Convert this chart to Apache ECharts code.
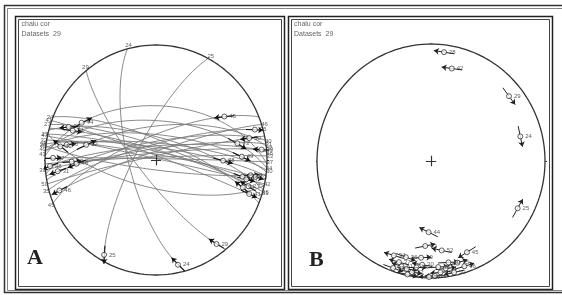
<!DOCTYPE html>
<html>
<head>
<meta charset="utf-8">
<script src="https://cdn.jsdelivr.net/npm/echarts@6/dist/echarts.min.js"></script>
<style>
html, body { margin: 0; padding: 0; background: #fff; }
#chart { width: 562px; height: 295px; }
</style>
</head>
<body>
<div id="chart"></div>
<script>
'use strict';

// 数据集（断层面 + 擦痕）
var names   = ['24', '25', '29', '28', '42', '44', '27', '23', '45', '30', '31', '32', '33', '34', '35',
               '36', '37', '38', '39', '40', '41', '43', '46', '47', '48', '49', '50', '51', '52'];
// 走向（右手法则）
var strikes = [165, 208, 141, 97, 103, 272, 288, 283, 248, 275, 262, 280, 268, 292, 255,
               285, 271, 278, 265, 260, 290, 274, 252, 282, 266, 276, 258, 286, 263];
// 倾角
var dips    = [70, 75, 77, 83, 70, 51, 80, 84, 73, 78, 82, 86, 88, 76, 79,
               74, 89, 81, 85, 77, 87, 62, 84, 89, 80, 72, 87, 83, 66];
// 侧伏角（从走向方向量起）
var rakes   = [8, 6, 10, 15, 165, 35, 165, 158, 150, 20, 12, 170, 25, 160, 172,
               18, 8, 140, 175, 30, 168, 150, 10, 162, 5, 155, 165, 22, 40];
// 运动方向
var senses  = [1, -1, 1, -1, 1, 1, -1, 1, -1, 1, -1, 1, 1, -1, 1,
               -1, 1, 1, -1, -1, 1, 1, -1, 1, -1, 1, -1, 1, 1];

var D2R = Math.PI / 180;

// 面上一点的方向向量 [东, 北, 下]
function planeVec(strike, dip, a) {
    var s = strike * D2R, dd = (strike + 90) * D2R, d = dip * D2R, t = a * D2R;
    var cs = Math.cos(t), sn = Math.sin(t);
    return [
        cs * Math.sin(s) + sn * Math.sin(dd) * Math.cos(d),
        cs * Math.cos(s) + sn * Math.cos(dd) * Math.cos(d),
        sn * Math.sin(d)
    ];
}
// 等面积下半球投影
function project(v) {
    var h = Math.sqrt(v[0] * v[0] + v[1] * v[1]);
    var plunge = Math.atan2(v[2], h);
    var r = Math.SQRT2 * Math.sin((Math.PI / 2 - plunge) / 2);
    var tr = Math.atan2(v[0], v[1]);
    return [r * Math.sin(tr), r * Math.cos(tr)];
}
function polePt(strike, dip) {
    var dd = (strike + 90) * D2R, d = dip * D2R;
    return project([-Math.sin(dd) * Math.sin(d), -Math.cos(dd) * Math.sin(d), Math.cos(d)]);
}

var chart = echarts.init(document.getElementById('chart'));
var series = [];

// 基圆
var prim = [];
for (var k = 0; k <= 360; k += 2) prim.push([Math.sin(k * D2R), Math.cos(k * D2R)]);

function frameSeries(gi) {
    series.push({
        type: 'line', xAxisIndex: gi, yAxisIndex: gi, data: prim, showSymbol: false, symbol: 'none',
        clip: false, silent: true, z: 4, lineStyle: { color: '#333', width: 1.3 }
    });
    series.push({
        type: 'lines', coordinateSystem: 'cartesian2d', xAxisIndex: gi, yAxisIndex: gi, silent: true, z: 4,
        lineStyle: { color: '#333', width: 1.2, opacity: 1 },
        data: [
            { coords: [[0, 1], [0, 1.08]] },
            { coords: [[1, 0], [1.04, 0]] },
            { coords: [[0, -1], [0, -1.04]] },
            { coords: [[-1, 0], [-1.04, 0]] },
            { coords: [[-0.045, 0], [0.045, 0]] },
            { coords: [[0, -0.045], [0, 0.045]] }
        ]
    });
}
frameSeries(0);
frameSeries(1);

// A：大圆 + 擦痕
var linPts = [], linArrows = [], planeLbl = [];
names.forEach(function (n, i) {
    var pts = [];
    for (var a = 0; a <= 180; a += 3) pts.push(project(planeVec(strikes[i], dips[i], a)));
    series.push({
        type: 'line', xAxisIndex: 0, yAxisIndex: 0, data: pts, showSymbol: false, symbol: 'none',
        clip: false, silent: true, z: 2, lineStyle: { color: '#7c7c7c', width: 0.9 }
    });
    linPts.push({ name: n, value: project(planeVec(strikes[i], dips[i], rakes[i])) });
    linArrows.push({ coords: [
        project(planeVec(strikes[i], dips[i], rakes[i] - 8 * senses[i])),
        project(planeVec(strikes[i], dips[i], rakes[i] + 8 * senses[i]))
    ] });
    var endA = rakes[i] < 90 ? 183 : -3;
    planeLbl.push({ name: n, value: project(planeVec(strikes[i], dips[i], endA)) });
});

series.push({
    type: 'lines', coordinateSystem: 'cartesian2d', xAxisIndex: 0, yAxisIndex: 0, silent: true, z: 5,
    symbol: ['none', 'arrow'], symbolSize: 5,
    lineStyle: { color: '#111', width: 1.1, opacity: 1 }, data: linArrows
});
series.push({
    type: 'scatter', xAxisIndex: 0, yAxisIndex: 0, clip: false, silent: true, z: 6,
    symbol: 'circle', symbolSize: 5,
    itemStyle: { color: '#fff', borderColor: '#222', borderWidth: 0.9 },
    label: { show: true, position: 'right', distance: 2, formatter: '{b}', fontSize: 6, color: '#333', fontFamily: 'Liberation Sans' },
    data: linPts
});
series.push({
    type: 'scatter', xAxisIndex: 0, yAxisIndex: 0, clip: false, silent: true, z: 6,
    symbolSize: 0,
    label: { show: true, position: 'inside', formatter: '{b}', fontSize: 6, color: '#333', fontFamily: 'Liberation Sans' },
    data: planeLbl
});

// B：极点 + 滑动方向
var polePts = [], poleArrows = [];
names.forEach(function (n, i) {
    var p = polePt(strikes[i], dips[i]);
    var lv = planeVec(strikes[i], dips[i], rakes[i]);
    var tr = Math.atan2(lv[0], lv[1]);
    var dx = Math.sin(tr) * 0.09 * senses[i], dy = Math.cos(tr) * 0.09 * senses[i];
    polePts.push({ name: n, value: p });
    poleArrows.push({ coords: [[p[0] - dx, p[1] - dy], [p[0] + dx, p[1] + dy]] });
});
series.push({
    type: 'lines', coordinateSystem: 'cartesian2d', xAxisIndex: 1, yAxisIndex: 1, silent: true, z: 5,
    symbol: ['none', 'arrow'], symbolSize: 5,
    lineStyle: { color: '#222', width: 1, opacity: 1 }, data: poleArrows
});
series.push({
    type: 'scatter', xAxisIndex: 1, yAxisIndex: 1, clip: false, silent: true, z: 6,
    symbol: 'circle', symbolSize: 5,
    itemStyle: { color: '#fff', borderColor: '#222', borderWidth: 0.9 },
    label: { show: true, position: 'right', distance: 2, formatter: '{b}', fontSize: 6, color: '#333', fontFamily: 'Liberation Sans' },
    data: polePts
});

function ax(gi) {
    return { type: 'value', gridIndex: gi, min: -1, max: 1, show: false };
}

var small = '7px "Liberation Sans"';
var option = {
    animation: false,
    backgroundColor: '#fff',
    grid: [
        { left: 45, top: 45, width: 222, height: 230 },
        { left: 317, top: 44, width: 228, height: 234 }
    ],
    xAxis: [ax(0), ax(1)],
    yAxis: [ax(0), ax(1)],
    graphic: [
        { type: 'rect', shape: { x: 4.5, y: 5.5, width: 700, height: 287 }, style: { fill: 'none', stroke: '#333', lineWidth: 1.5 } },
        { type: 'rect', shape: { x: 7.5, y: 8.5, width: 700, height: 282 }, style: { fill: 'none', stroke: '#666', lineWidth: 0.8 } },
        { type: 'rect', shape: { x: 15.5, y: 16.5, width: 269, height: 273 }, style: { fill: 'none', stroke: '#222', lineWidth: 1.5 } },
        { type: 'rect', shape: { x: 18.5, y: 19.5, width: 263, height: 267 }, style: { fill: 'none', stroke: '#444', lineWidth: 1 } },
        { type: 'rect', shape: { x: 288.5, y: 16.5, width: 264, height: 273 }, style: { fill: 'none', stroke: '#222', lineWidth: 1.5 } },
        { type: 'rect', shape: { x: 291.5, y: 19.5, width: 258, height: 267 }, style: { fill: 'none', stroke: '#444', lineWidth: 1 } },
        { type: 'text', x: 21.5, y: 24, style: { text: 'chalu cor', fill: '#666', font: small, verticalAlign: 'middle' } },
        { type: 'text', x: 21.5, y: 34, style: { text: 'Datasets  29', fill: '#666', font: small, verticalAlign: 'middle' } },
        { type: 'text', x: 294, y: 24, style: { text: 'chalu cor', fill: '#666', font: small, verticalAlign: 'middle' } },
        { type: 'text', x: 294, y: 34, style: { text: 'Datasets  29', fill: '#666', font: small, verticalAlign: 'middle' } },
        { type: 'text', x: 27, y: 247, style: { text: 'A', fill: '#222', font: 'bold 22px "Liberation Serif"', verticalAlign: 'top' } },
        { type: 'text', x: 309, y: 249, style: { text: 'B', fill: '#222', font: 'bold 22px "Liberation Serif"', verticalAlign: 'top' } }
    ],
    series: series
};

chart.setOption(option);
</script>
</body>
</html>
